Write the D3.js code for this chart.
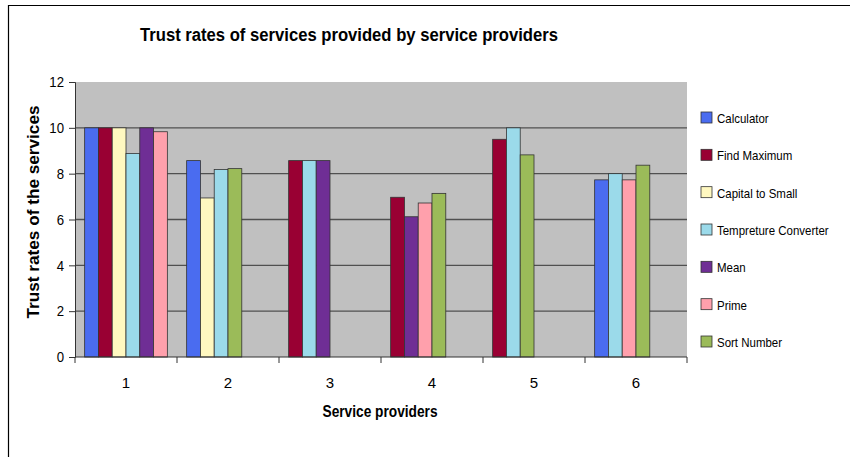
<!DOCTYPE html>
<html>
<head>
<meta charset="utf-8">
<script src="https://cdn.jsdelivr.net/npm/d3@7"></script>
<style>
  html, body { margin: 0; padding: 0; background: #fff; }
  svg { display: block; font-family: "Liberation Sans", Arial, sans-serif; }
</style>
</head>
<body>
<div id="chart"></div>
<script>
const categories = ['1', '2', '3', '4', '5', '6'];
const seriesNames = ['Calculator', 'Find Maximum', 'Capital to Small', 'Tempreture Converter', 'Mean', 'Prime', 'Sort Number'];
const seriesColors = ['#4a6cf0', '#990033', '#fff8c0', '#9bdaea', '#6f2e95', '#ffa0ac', '#9bbb59'];
// null = service not offered by that provider
const calculator  = [10,   8.57, null, null, null, 7.73];
const findMaximum = [10,   null, 8.57, 6.97, 9.5,  null];
const capitalToSm = [10,   6.94, null, null, null, null];
const tempConvert = [8.88, 8.18, 8.57, null, 10,   8.0];
const mean        = [10,   null, 8.57, 6.12, null, null];
const prime       = [9.83, null, null, 6.72, null, 7.73];
const sortNumber  = [null, 8.22, null, 7.14, 8.82, 8.37];
const seriesValues = [calculator, findMaximum, capitalToSm, tempConvert, mean, prime, sortNumber];
const yTicks = [0, 2, 4, 6, 8, 10, 12];

const W = 850, H = 457;
const plot = { left: 75, right: 687, top: 82, bottom: 357 };

// Arial in the original renders narrower; squeeze text horizontally
function condense(sel, f) {
  sel.each(function () {
    const w = this.getComputedTextLength();
    d3.select(this).attr('textLength', w * f).attr('lengthAdjust', 'spacingAndGlyphs');
  });
}

const svg = d3.select('#chart').append('svg').attr('width', W).attr('height', H);

// outer frame (left + top edges only visible)
svg.append('path').attr('d', `M8.5,${H} L8.5,5.5 L${W},5.5`)
  .attr('fill', 'none').attr('stroke', '#000').attr('stroke-width', 1.2);

const x0 = d3.scaleBand().domain(categories).range([plot.left, plot.right]);
const x1 = d3.scaleBand().domain(d3.range(6)).range([0, x0.bandwidth()]).paddingInner(0).paddingOuter(0.7);
const y = d3.scaleLinear().domain([0, 12]).range([plot.bottom, plot.top]);

svg.append('rect').attr('x', plot.left).attr('y', plot.top)
  .attr('width', plot.right - plot.left).attr('height', plot.bottom - plot.top)
  .attr('fill', '#c0c0c0');

// gridlines
svg.selectAll('.grid').data(yTicks.filter(t => t > 0 && t < 12)).join('line')
  .attr('x1', plot.left).attr('x2', plot.right)
  .attr('y1', d => y(d)).attr('y2', d => y(d))
  .attr('stroke', '#505050').attr('stroke-width', 1.3);

// bars: each provider's services packed from the left of its slot
categories.forEach((c, ci) => {
  const present = seriesNames.map((n, si) => ({ si, v: seriesValues[si][ci] })).filter(d => d.v != null);
  svg.selectAll(null).data(present).join('rect')
    .attr('x', (d, i) => x0(c) + x1(i))
    .attr('y', d => y(d.v))
    .attr('width', x1.bandwidth())
    .attr('height', d => y(0) - y(d.v))
    .attr('fill', d => seriesColors[d.si])
    .attr('stroke', '#333').attr('stroke-width', 0.8);
});

// y axis
const yAxis = svg.append('g').attr('transform', `translate(${plot.left},0)`)
  .call(d3.axisLeft(y).tickValues(yTicks).tickSize(6).tickPadding(5));
yAxis.select('.domain').attr('stroke', '#333');
yAxis.selectAll('.tick line').attr('stroke', '#333');
yAxis.selectAll('text').attr('font-size', 15).attr('fill', '#000')
  .attr('font-family', '"Liberation Sans", Arial, sans-serif');
condense(yAxis.selectAll('text'), 0.88);

// x axis: ticks at category boundaries
const xAxisG = svg.append('g');
xAxisG.append('line').attr('x1', plot.left).attr('x2', plot.right)
  .attr('y1', plot.bottom).attr('y2', plot.bottom).attr('stroke', '#333');
const bounds = categories.map(c => x0(c)).concat([plot.right]);
xAxisG.selectAll('.xt').data(bounds).join('line')
  .attr('x1', d => d).attr('x2', d => d)
  .attr('y1', plot.bottom).attr('y2', plot.bottom + 6).attr('stroke', '#333');
xAxisG.selectAll('.xl').data(categories).join('text')
  .attr('x', d => x0(d) + x0.bandwidth() / 2).attr('y', plot.bottom + 31)
  .attr('text-anchor', 'middle').attr('font-size', 15).text(d => d);

// titles
svg.append('text').attr('x', 349).attr('y', 41).attr('text-anchor', 'middle')
  .attr('font-size', 18).attr('font-weight', 'bold')
  .attr('textLength', 418).attr('lengthAdjust', 'spacingAndGlyphs')
  .text('Trust rates of services provided by service providers');
svg.append('text').attr('x', 380).attr('y', 417).attr('text-anchor', 'middle')
  .attr('font-size', 16).attr('font-weight', 'bold')
  .attr('textLength', 115).attr('lengthAdjust', 'spacingAndGlyphs')
  .text('Service providers');
svg.append('text').attr('transform', 'translate(39,212) rotate(-90)').attr('text-anchor', 'middle')
  .attr('font-size', 16).attr('font-weight', 'bold')
  .attr('textLength', 213).attr('lengthAdjust', 'spacingAndGlyphs')
  .text('Trust rates of the services');

// legend
const legend = svg.append('g');
const ly = d3.scalePoint().domain(seriesNames).range([118, 342]);
legend.selectAll('rect').data(seriesNames).join('rect')
  .attr('x', 701).attr('y', d => ly(d) - 6).attr('width', 11).attr('height', 11)
  .attr('fill', (d, i) => seriesColors[i]).attr('stroke', '#333').attr('stroke-width', 0.8);
legend.selectAll('text').data(seriesNames).join('text')
  .attr('x', 717).attr('y', d => ly(d) + 5).attr('font-size', 13.5).text(d => d);
condense(legend.selectAll('text'), 0.85);
</script>
</body>
</html>
